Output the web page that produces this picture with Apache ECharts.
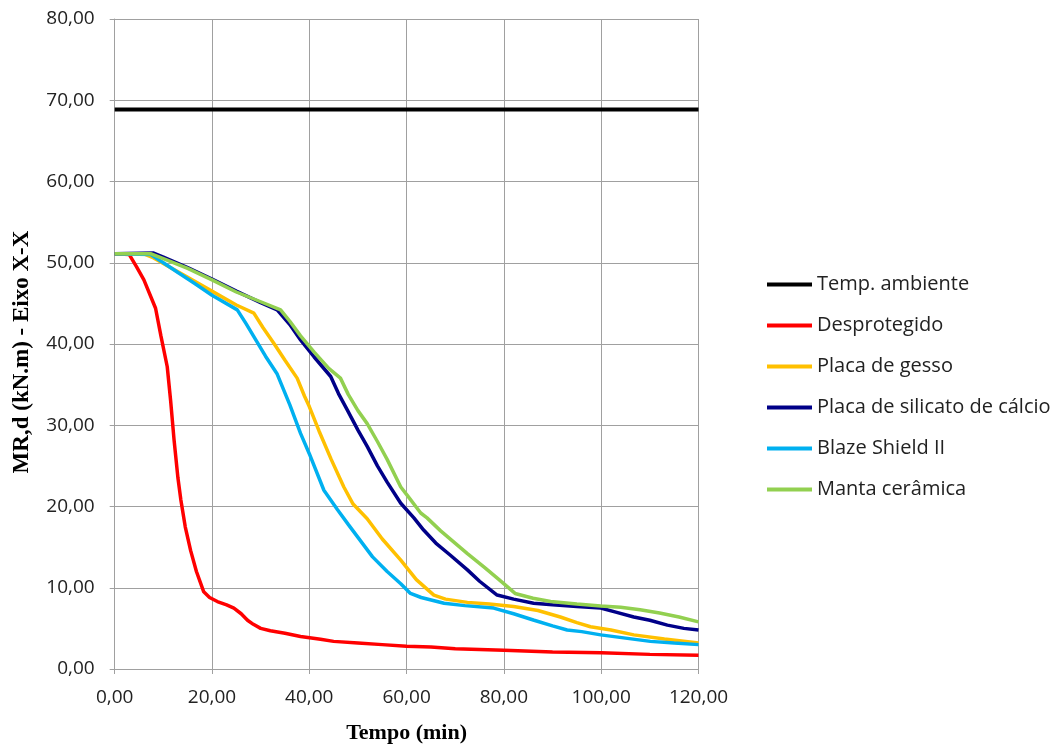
<!DOCTYPE html>
<html>
<head>
<meta charset="utf-8">
<script src="https://cdn.jsdelivr.net/npm/echarts@6/dist/echarts.min.js"></script>
<style>html,body{margin:0;padding:0;background:#fff;}#c{width:1056px;height:744px;}</style>
</head>
<body>
<div id="c"></div>
<script>
var seriesNames = ['Temp. ambiente','Desprotegido','Placa de gesso','Placa de silicato de cálcio','Blaze Shield II','Manta cerâmica'];
var seriesColors = ['#000000','#FF0000','#FFC000','#000088','#00B0F0','#92D050'];

var tAmb = [0, 120];
var vAmb = [68.85, 68.85];

var tDes = [0,3,4.5,6,8.4,9.5,10.8,11.5,12.2,13,13.6,14.5,15.6,16.8,18.3,19.5,21.1,23,24.5,26,27.3,28.5,30,32,35,38.2,42.3,45,50,55,60,65,70,75,80,90,100,110,120];
var vDes = [51.1,51,49.5,47.9,44.4,41,37.2,33,28.2,23.5,20.8,17.5,14.6,12,9.5,8.8,8.3,7.9,7.5,6.8,6.0,5.5,5.0,4.7,4.4,4.0,3.65,3.4,3.2,3.0,2.8,2.7,2.5,2.4,2.3,2.1,2.0,1.8,1.7];

var tGes = [0,6,8,10,15,19.7,25,28.6,30.5,32.7,35,37.5,39,40,42,44.5,47.1,49,51.9,55,58.8,62,65.6,68,72.5,77,82,87,91.6,95,97.8,102,106.7,113,120];
var vGes = [51.1,51.1,50.6,49.9,48.2,46.6,44.8,43.8,42,40.1,38,35.8,33.6,32.3,29.3,25.8,22.4,20.3,18.5,16,13.4,11,9.1,8.6,8.2,8.0,7.7,7.2,6.4,5.7,5.2,4.8,4.2,3.7,3.2];

var tSil = [0,8,10,15,20,25,30,33.4,36,38.2,41,44.4,46,47.8,50,51.9,54,56,58.8,61.5,63.5,66,69,72.5,75,78.6,82,86.1,90,95,99.9,103,106.7,110,113.6,117,120];
var vSil = [51.1,51.2,50.7,49.4,48.0,46.5,45.1,44.2,42.4,40.5,38.4,36.0,33.9,31.9,29.4,27.4,25,23,20.4,18.6,17.1,15.5,14.0,12.2,10.8,9.1,8.6,8.1,7.9,7.7,7.5,7.0,6.4,6.0,5.4,5.0,4.8];

var tBla = [0,7.4,10,13,16.3,20,25.2,27,28.6,31,33.4,36,38.2,40,43,45.8,48,50,53,56,58.8,60.8,63,67.7,72,77.9,82,86.2,90,93,96,99.9,105,110.1,115,120];
var vBla = [51.1,51,50,48.8,47.5,46.0,44.2,42.5,40.9,38.5,36.3,32.5,29,26.5,22,19.6,17.8,16.2,13.8,12,10.5,9.3,8.8,8.1,7.8,7.5,6.8,6.0,5.3,4.8,4.6,4.2,3.8,3.4,3.2,3.0];

var tMan = [0,7.5,10,15,20,25,30,34.1,36,38.2,41,44,46.4,48,50,51.9,54,56,58.8,60.1,62.9,64.2,67,72.5,76,79,82.3,86,89.6,95,99.9,104,108,112,116,120];
var vMan = [51.1,51.1,50.5,49.3,47.9,46.4,45.2,44.2,42.8,41,39,37,35.8,33.8,31.8,30.2,28,25.8,22.4,21.4,19.2,18.6,17.0,14.2,12.5,11.0,9.3,8.7,8.3,8.0,7.75,7.6,7.3,6.9,6.4,5.8];

var xTicks = {min: 0, max: 120, interval: 20};
var yTicks = {min: 0, max: 80, interval: 10};

function pairs(t, v) { return t.map(function (x, i) { return [x, v[i]]; }); }
var allT = [tAmb, tDes, tGes, tSil, tBla, tMan];
var allV = [vAmb, vDes, vGes, vSil, vBla, vMan];

function fmt(v) { return v.toFixed(2).replace('.', ','); }

var gridColor = '#A0A0A0';
var chart = echarts.init(document.getElementById('c'), null, {renderer: 'canvas'});
chart.setOption({
  animation: false,
  backgroundColor: '#ffffff',
  grid: {left: 114.7, right: 357.5, top: 19, bottom: 75, containLabel: false, outerBoundsMode: 'none'},
  xAxis: {
    type: 'value', min: xTicks.min, max: xTicks.max, interval: xTicks.interval,
    name: 'Tempo (min)', nameLocation: 'middle', nameGap: 53,
    nameTextStyle: {fontFamily: 'Liberation Serif', fontWeight: 'bold', fontSize: 22, color: '#000'},
    axisLine: {show: true, lineStyle: {color: gridColor, width: 1}},
    axisTick: {show: true, length: 5, lineStyle: {color: gridColor}},
    splitLine: {show: true, lineStyle: {color: gridColor, width: 1}},
    axisLabel: {formatter: fmt, margin: 19, fontFamily: 'Open Sans', fontSize: 19, color: '#222'}
  },
  yAxis: {
    type: 'value', min: yTicks.min, max: yTicks.max, interval: yTicks.interval,
    name: 'MR,d (kN.m) - Eixo X-X', nameLocation: 'middle', nameGap: 81,
    nameTextStyle: {fontFamily: 'Liberation Serif', fontWeight: 'bold', fontSize: 23, color: '#000', padding: [0, 16, 0, 0]},
    axisLine: {show: true, lineStyle: {color: gridColor, width: 1}},
    axisTick: {show: true, length: 5, lineStyle: {color: gridColor}},
    splitLine: {show: true, lineStyle: {color: gridColor, width: 1}},
    axisLabel: {formatter: fmt, margin: 20, fontFamily: 'Open Sans', fontSize: 19, color: '#222'}
  },
  legend: {
    orient: 'vertical', left: 762, top: 269,
    icon: 'rect', itemWidth: 45, itemHeight: 4, itemGap: 20,
    textStyle: {fontFamily: 'Open Sans', fontSize: 20, color: '#222', lineHeight: 21},
    data: seriesNames
  },
  series: seriesNames.map(function (n, i) {
    return {
      name: n, type: 'line', data: pairs(allT[i], allV[i]),
      showSymbol: false, symbol: 'none',
      lineStyle: {color: seriesColors[i], width: i === 0 ? 4 : 3.5},
      itemStyle: {color: seriesColors[i]},
      z: 2 + i
    };
  })
});
</script>
</body>
</html>
